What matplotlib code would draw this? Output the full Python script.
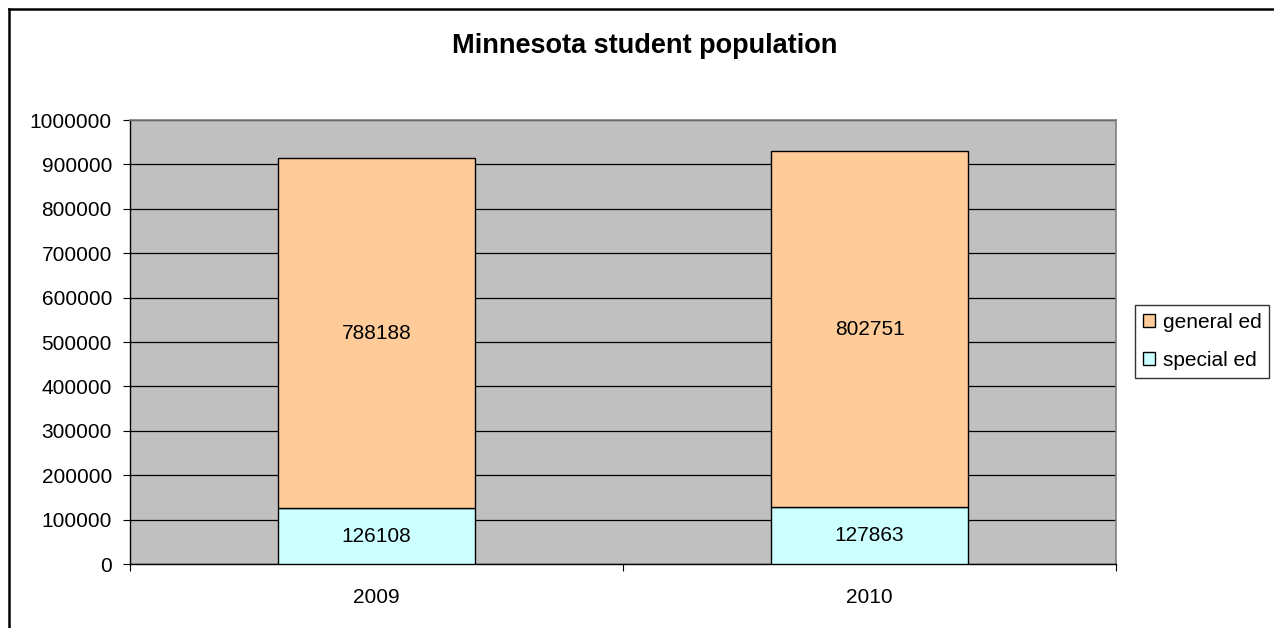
import matplotlib
matplotlib.use("Agg")
import matplotlib.pyplot as plt
from matplotlib.lines import Line2D
from matplotlib.patches import Patch
import numpy as np

years = ["2009", "2010"]
special_ed = [126108, 127863]
general_ed = [788188, 802751]
y_ticks = [0, 100000, 200000, 300000, 400000, 500000, 600000, 700000, 800000, 900000, 1000000]

plt.rcParams['font.family'] = ['Liberation Sans', 'DejaVu Sans']

FS = 15
W, H = 1274, 628
fig = plt.figure(figsize=(W / 100, H / 100), dpi=100)
fig.patch.set_facecolor('white')

# chart border (top and left visible)
fig.add_artist(Line2D([9 / W, 1.01], [1 - 9 / H, 1 - 9 / H], color='black', lw=1.8, transform=fig.transFigure))
fig.add_artist(Line2D([9 / W, 9 / W], [-0.01, 1 - 9 / H], color='black', lw=1.8, transform=fig.transFigure))

left, right, top, bottom = 130, 1116, 120, 564
ax = fig.add_axes([left / W, 1 - bottom / H, (right - left) / W, (bottom - top) / H])
ax.set_facecolor('#C0C0C0')

x = np.arange(len(years))
bw = 0.4
ax.bar(x, special_ed, bw, color='#CCFFFF', edgecolor='black', linewidth=1, zorder=3, label='special ed')
ax.bar(x, general_ed, bw, bottom=special_ed, color='#FFCC99', edgecolor='black', linewidth=1, zorder=3, label='general ed')

for i in range(len(years)):
    ax.text(x[i], special_ed[i] / 2, str(special_ed[i]), ha='center', va='center', fontsize=FS, zorder=4)
    ax.text(x[i], special_ed[i] + general_ed[i] / 2, str(general_ed[i]), ha='center', va='center', fontsize=FS, zorder=4)

ax.set_xlim(-0.5, len(years) - 0.5)
ax.set_ylim(0, 1000000)
ax.set_yticks(y_ticks)
ax.set_yticklabels([str(v) for v in y_ticks], fontsize=FS)
ax.yaxis.grid(True, color='black', linewidth=0.9, zorder=1)
ax.set_axisbelow(True)

ax.set_xticks([-0.5, 0.5, 1.5])
ax.set_xticklabels([])
ax.set_xticks(x, minor=True)
ax.set_xticklabels(years, minor=True, fontsize=FS)
ax.tick_params(axis='x', which='major', direction='out', length=5, color='black')
ax.tick_params(axis='x', which='minor', length=0, pad=17)
ax.tick_params(axis='y', direction='out', length=5, color='black', pad=8)

for s in ['top', 'right']:
    ax.spines[s].set_color('#808080')
    ax.spines[s].set_linewidth(1.2)
for s in ['left', 'bottom']:
    ax.spines[s].set_color('black')
    ax.spines[s].set_linewidth(1.0)

fig.text(645 / W, 1 - 46 / H, 'Minnesota student population', ha='center', va='center',
         fontsize=19.5, fontweight='bold')

handles = [Patch(facecolor='#FFCC99', edgecolor='black', label='general ed'),
           Patch(facecolor='#CCFFFF', edgecolor='black', label='special ed')]
leg = fig.legend(handles=handles, loc='upper left', bbox_to_anchor=(1135 / W, 1 - 305 / H),
                 fontsize=FS, frameon=True, fancybox=False, edgecolor='black',
                 handlelength=0.6, handleheight=0.6, handletextpad=0.35, borderpad=0.38,
                 labelspacing=0.92, borderaxespad=0)
leg.get_frame().set_linewidth(1.0)

fig.savefig('out.png', dpi=100)
